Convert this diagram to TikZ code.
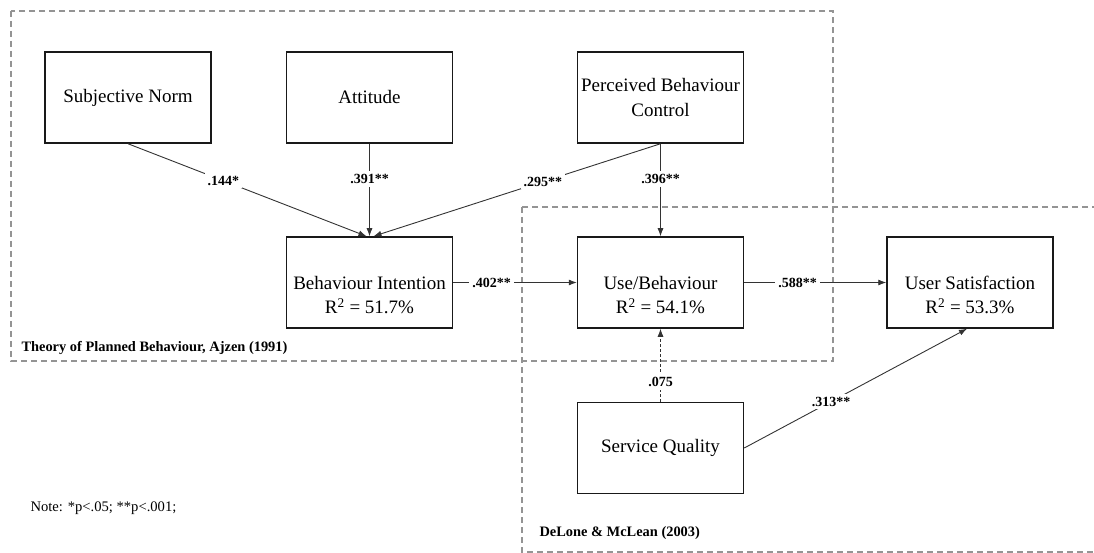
\documentclass[tikz,border=0pt]{standalone}
\usepackage{fontspec}
\setmainfont{Liberation Serif}
\usetikzlibrary{arrows.meta}
\tikzset{
  construct/.style={draw=black!90, line width=1.5pt, minimum width=166pt, minimum height=91pt,
    inner xsep=0pt, align=center, font=\fontsize{19}{24.5}\selectfont},
  path/.style={draw=black!80, line width=0.9pt, -{Latex[length=8pt,width=6pt]}},
  coef/.style={fill=white, inner sep=3pt, font=\fontsize{14}{16}\selectfont\bfseries},
  region/.style={draw=black!42, line width=1.2pt, dash pattern=on 6pt off 4pt},
}
\begin{document}
\begin{tikzpicture}[x=1pt,y=-1pt]
\useasboundingbox (0,0) rectangle (1094,553);
\clip (0,0) rectangle (1094,553);
% model regions
   \draw[region] (11,11) rectangle (833,361);
   \draw[region] (522,207) rectangle (1110,552);
   \node[anchor=west, font=\fontsize{14.4}{16}\selectfont\bfseries] at (18,348) (tpb) {Theory of Planned Behaviour, Ajzen (1991)};
   \node[anchor=west, font=\fontsize{14.4}{16}\selectfont\bfseries] at (536,533) (dm) {DeLone \& McLean (2003)};
   \node[anchor=west, font=\fontsize{14.6}{16}\selectfont] at (27,508) (note) {Note: *p<.05; **p<.001;};
% constructs
   \node[construct] at (128,97.5) (SN) {Subjective Norm};
   \node[construct] at (369.5,97.5) (ATT) {Attitude};
   \node[construct] at (660.5,97.5) (PBC) {Perceived Behaviour\\Control};
   \node[construct] at (369.5,282.5) (BI) {~\\[14pt]Behaviour Intention\\R\textsuperscript{2} = 51.7\%};
   \node[construct] at (660.5,282.5) (UB) {~\\[14pt]Use/Behaviour\\R\textsuperscript{2} = 54.1\%};
   \node[construct] at (970,282.5) (US) {~\\[14pt]User Satisfaction\\R\textsuperscript{2} = 53.3\%};
   \node[construct] at (660.5,448) (SQ) {Service Quality};
% paths
   \draw[path] (SN.south) -- ([xshift=-3pt]BI.north) node[coef,pos=.4] {.144*};
   \draw[path] (ATT.south) -- (BI.north) node[coef,pos=.38] {.391**};
   \draw[path] (PBC.south) -- ([xshift=4pt]BI.north) node[coef,pos=.41] {.295**};
   \draw[path] (PBC.south) -- (UB.north) node[coef,pos=.38] {.396**};
   \draw[path] (BI.east) -- (UB.west) node[coef,pos=.31] {.402**};
   \draw[path] (UB.east) -- (US.west) node[coef,pos=.375] {.588**};
   \draw[path, dash pattern=on 3pt off 2pt] (SQ.north) -- (UB.south) node[coef,pos=.27] {.075};
   \draw[path] (SQ.east) -- ([xshift=-3pt]US.south) node[coef,pos=.39] {.313**};
\end{tikzpicture}
\end{document}
